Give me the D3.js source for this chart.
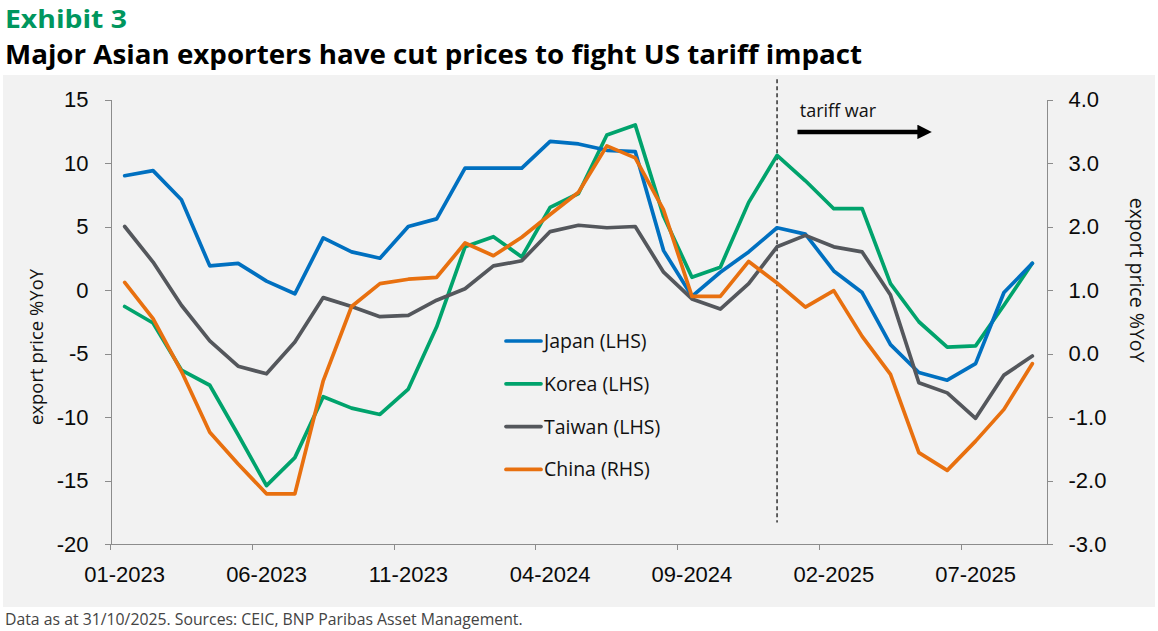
<!DOCTYPE html>
<html lang="en">
  <head>
    <meta charset="utf-8" />
    <title>Major Asian exporters have cut prices to fight US tariff impact</title>
    <style>
      html, body {
        margin: 0;
        padding: 0;
        background: #ffffff;
      }
      svg {
        display: block;
        font-family: 'Open Sans', 'Noto Sans', sans-serif;
      }
      .axis path,
      .axis line {
        stroke: #8c8c8c;
        stroke-width: 1;
        shape-rendering: crispEdges;
      }
      .axis text {
        fill: #0a0a0a;
        font-size: 22px;
      }
      .series {
        fill: none;
        stroke-width: 3.7;
        stroke-linejoin: round;
        stroke-linecap: round;
      }
    </style>
  </head>
  <body>
    <svg></svg>

    <script src="https://d3js.org/d3.v7.min.js"></script>
    <script type="text/javascript">
      let width = 1158,
        height = 631

      // Monthly categories, Jan 2023 .. Sep 2025
      const months = [
        '01-2023', '02-2023', '03-2023', '04-2023', '05-2023', '06-2023', '07-2023', '08-2023',
        '09-2023', '10-2023', '11-2023', '12-2023', '01-2024', '02-2024', '03-2024', '04-2024',
        '05-2024', '06-2024', '07-2024', '08-2024', '09-2024', '10-2024', '11-2024', '12-2024',
        '01-2025', '02-2025', '03-2025', '04-2025', '05-2025', '06-2025', '07-2025', '08-2025',
        '09-2025',
      ]

      // export price %YoY
      const japan = [9.0, 9.4, 7.1, 1.9, 2.1, 0.7, -0.3, 4.1, 3.0, 2.5, 5.0, 5.6, 9.6, 9.6, 9.6, 11.7, 11.5,
        11.0, 10.9, 3.1, -0.5, 1.4, 3.0, 4.9, 4.4, 1.5, -0.2, -4.3, -6.5, -7.1, -5.8, -0.2, 2.1]
      const korea = [-1.3, -2.6, -6.3, -7.5, -11.4, -15.4, -13.2, -8.4, -9.3, -9.8, -7.8, -2.9, 3.4, 4.2, 2.6,
        6.5, 7.6, 12.2, 13.0, 5.8, 1.0, 1.8, 6.9, 10.6, 8.6, 6.4, 6.4, 0.5, -2.5, -4.5, -4.4, -1.2, 2.1]
      const taiwan = [5.0, 2.2, -1.2, -4.0, -6.0, -6.6, -4.1, -0.6, -1.3, -2.1, -2.0, -0.8, 0.1, 1.9, 2.3, 4.6,
        5.1, 4.9, 5.0, 1.4, -0.7, -1.5, 0.5, 3.4, 4.3, 3.4, 3.0, -0.4, -7.3, -8.1, -10.1, -6.7, -5.2]
      // right-hand scale
      const china = [1.12, 0.55, -0.28, -1.24, -1.74, -2.21, -2.21, -0.43, 0.74, 1.1, 1.17, 1.2, 1.74, 1.54,
        1.83, 2.19, 2.54, 3.27, 3.08, 2.26, 0.9, 0.9, 1.45, 1.11, 0.73, 0.99, 0.27, -0.33, -1.56, -1.84, -1.38,
        -0.88, -0.16]

      const leftTicks = [15, 10, 5, 0, -5, -10, -15, -20]
      const rightTicks = [4, 3, 2, 1, 0, -1, -2, -3]
      const xTickLabels = ['01-2023', '06-2023', '11-2023', '04-2024', '09-2024', '02-2025', '07-2025']
      const tariffMonth = '12-2024'

      const seriesList = [
        { name: 'Japan (LHS)', values: japan, color: '#0070c0', axis: 'left' },
        { name: 'Korea (LHS)', values: korea, color: '#00a36c', axis: 'left' },
        { name: 'Taiwan (LHS)', values: taiwan, color: '#54575c', axis: 'left' },
        { name: 'China (RHS)', values: china, color: '#e8700f', axis: 'right' },
      ]
      // draw order: Korea and Japan under China, Taiwan on top of green
      const drawOrder = [1, 0, 2, 3]

      let svg = d3.select('svg').attr('width', width).attr('height', height).attr('viewBox', [0, 0, width, height])

      // grey panel
      svg.append('rect').attr('x', 3).attr('y', 75).attr('width', 1152).attr('height', 532).attr('fill', '#f2f2f2')

      // Titles
      svg
        .append('text')
        .attr('x', 5)
        .attr('y', 27.5)
        .attr('font-size', 25.5)
        .attr('font-weight', 'bold')
        .attr('fill', '#00965e')
        .attr('textLength', 122)
        .attr('lengthAdjust', 'spacingAndGlyphs')
        .text('Exhibit 3')

      svg
        .append('text')
        .attr('x', 5)
        .attr('y', 63.5)
        .attr('font-size', 27)
        .attr('font-weight', 'bold')
        .attr('fill', '#000')
        .attr('textLength', 857)
        .attr('lengthAdjust', 'spacingAndGlyphs')
        .text('Major Asian exporters have cut prices to fight US tariff impact')

      svg
        .append('text')
        .attr('x', 5)
        .attr('y', 625)
        .attr('font-size', 15.8)
        .attr('fill', '#444')
        .text('Data as at 31/10/2025. Sources: CEIC, BNP Paribas Asset Management.')

      // Scales
      const plot = { left: 110.5, right: 1046.5, top: 99.5, bottom: 544 }

      const x = d3.scaleBand().domain(months).range([plot.left, plot.right]).padding(0)
      const bw = x.bandwidth()
      const cx = (m) => x(m) + bw / 2

      const yL = d3.scaleLinear().domain([-20, 15]).range([plot.bottom, plot.top])
      const yR = d3.scaleLinear().domain([-3, 4]).range([plot.bottom, plot.top])

      // Axes
      svg
        .append('g')
        .attr('class', 'axis')
        .attr('transform', `translate(${plot.left},0)`)
        .call(
          d3
            .axisLeft(yL)
            .tickValues(leftTicks)
            .tickSize(6)
            .tickPadding(16)
            .tickSizeOuter(0)
            .tickFormat((d) => String(d))
        )

      svg
        .append('g')
        .attr('class', 'axis')
        .attr('transform', `translate(${plot.right},0)`)
        .call(
          d3
            .axisRight(yR)
            .tickValues(rightTicks)
            .tickSize(6)
            .tickPadding(16)
            .tickSizeOuter(0)
            .tickFormat((d) => d.toFixed(1))
        )

      // category axis: ticks between categories, labels centred on categories
      const xAxis = svg
        .append('g')
        .attr('class', 'axis')
        .attr('transform', `translate(0,${plot.bottom})`)
        .call(d3.axisBottom(x).tickValues(xTickLabels).tickSize(6).tickPadding(16).tickSizeOuter(0))
      xAxis.selectAll('.tick line').attr('transform', `translate(${-bw / 2},0)`)

      // Tariff marker
      svg
        .append('line')
        .attr('x1', cx(tariffMonth))
        .attr('x2', cx(tariffMonth))
        .attr('y1', yL(16.6))
        .attr('y2', yL(-18.3))
        .attr('stroke', '#000')
        .attr('stroke-width', 1.2)
        .attr('stroke-dasharray', '4,3')

      svg
        .append('defs')
        .append('marker')
        .attr('id', 'arrow')
        .attr('viewBox', '0 0 10 10')
        .attr('refX', 2)
        .attr('refY', 5)
        .attr('markerWidth', 3.4)
        .attr('markerHeight', 3.2)
        .attr('orient', 'auto')
        .append('path')
        .attr('d', 'M0,0 L10,5 L0,10 z')
        .attr('fill', '#000')

      svg
        .append('line')
        .attr('x1', cx(tariffMonth) + bw * 0.72)
        .attr('x2', cx(tariffMonth) + bw * 5.05)
        .attr('y1', yL(12.45))
        .attr('y2', yL(12.45))
        .attr('stroke', '#000')
        .attr('stroke-width', 4.5)
        .attr('marker-end', 'url(#arrow)')

      svg
        .append('text')
        .attr('x', cx(tariffMonth) + bw * 0.8)
        .attr('y', yL(13.6))
        .attr('font-size', 18)
        .attr('fill', '#111')
        .text('tariff war')

      // Lines
      const line = (scale) =>
        d3
          .line()
          .x((d, i) => cx(months[i]))
          .y((d) => scale(d))

      svg
        .append('g')
        .selectAll('path')
        .data(drawOrder.map((i) => seriesList[i]))
        .join('path')
        .attr('class', 'series')
        .attr('stroke', (d) => d.color)
        .attr('d', (d) => line(d.axis === 'left' ? yL : yR)(d.values))

      // Axis titles
      svg
        .append('text')
        .attr('transform', 'translate(43,347) rotate(-90)')
        .attr('text-anchor', 'middle')
        .attr('font-size', 18.5)
        .attr('fill', '#111')
        .text('export price %YoY')

      svg
        .append('text')
        .attr('transform', 'translate(1130,280) rotate(90)')
        .attr('text-anchor', 'middle')
        .attr('font-size', 19.5)
        .attr('fill', '#111')
        .text('export price %YoY')

      // Legend
      const legend = svg
        .append('g')
        .attr('transform', 'translate(506,341)')
        .selectAll('g')
        .data(seriesList)
        .join('g')
        .attr('transform', (d, i) => `translate(0,${i * 42.8})`)

      legend
        .append('line')
        .attr('x1', 0)
        .attr('x2', 35)
        .attr('stroke', (d) => d.color)
        .attr('stroke-width', 3.7)
        .attr('stroke-linecap', 'round')

      legend
        .append('text')
        .attr('x', 38)
        .attr('y', 7)
        .attr('font-size', 19.5)
        .attr('fill', '#111')
        .text((d) => d.name)
    </script>
  </body>
</html>
